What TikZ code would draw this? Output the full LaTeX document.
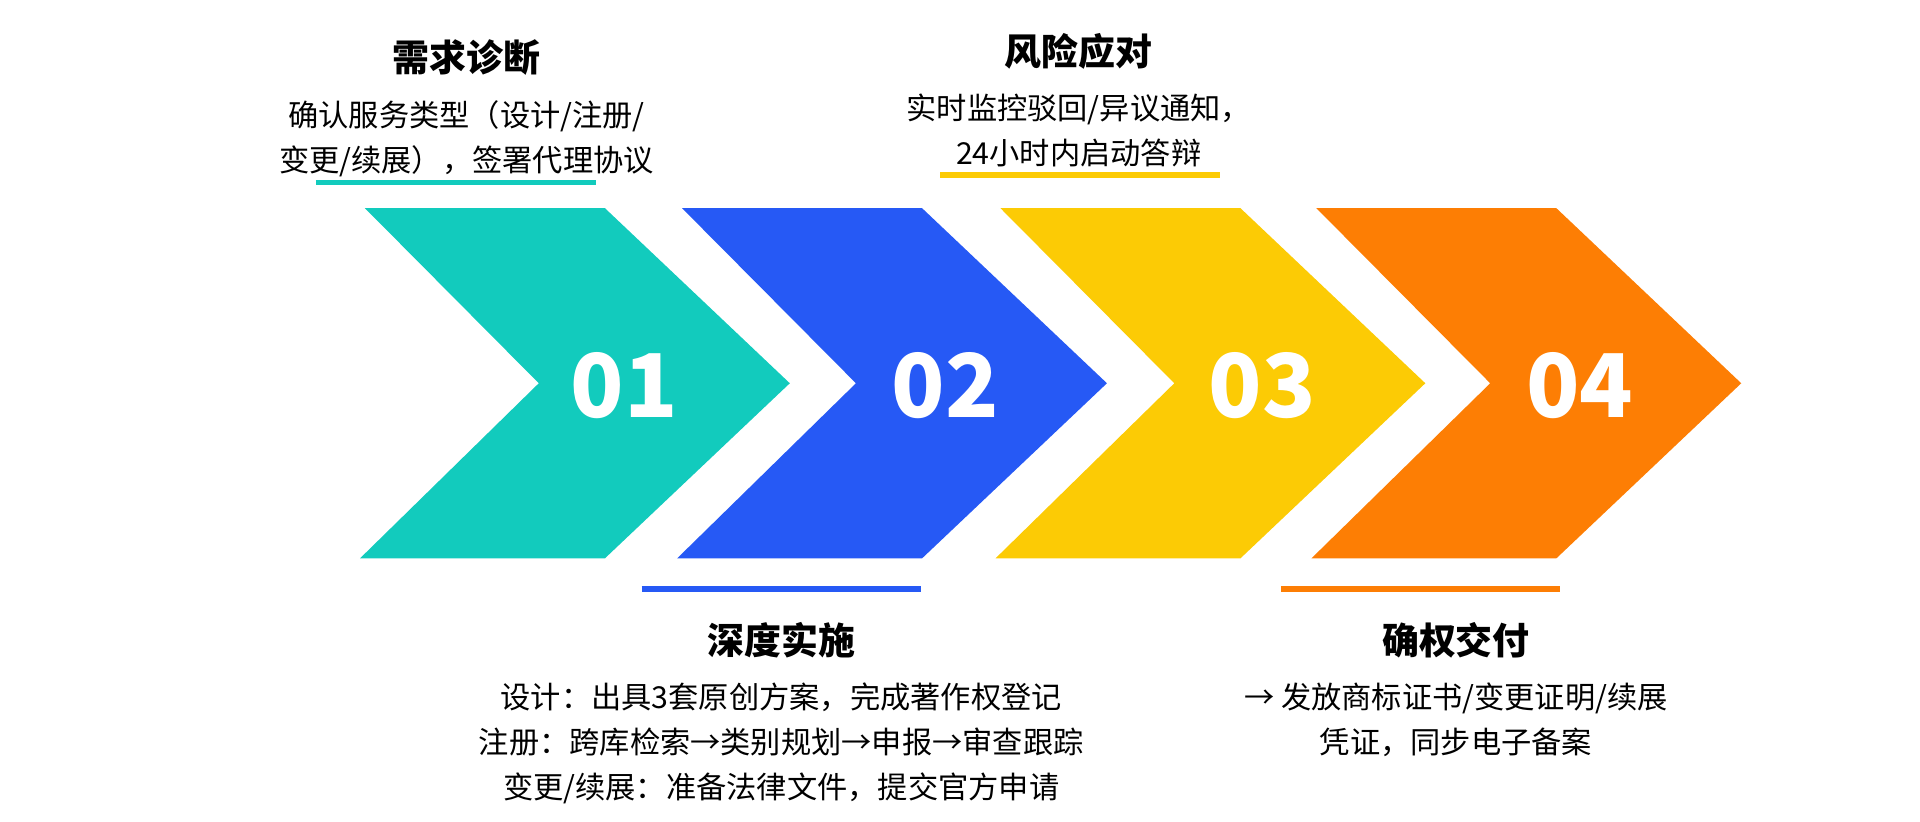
\documentclass[tikz,border=0pt]{standalone}
\usepackage{fontspec}
\setmainfont{Noto Sans CJK SC}
\usetikzlibrary{positioning}
\definecolor{cteal}{HTML}{12CBBD}
\definecolor{cblue}{HTML}{2659F5}
\definecolor{cyellow}{HTML}{FCCB05}
\definecolor{corange}{HTML}{FD7E04}
\tikzset{
    numtext/.style={text=white, font=\fontsize{25}{25}\selectfont\bfseries},
    title/.style={font=\fontsize{10.5}{12}\selectfont\bfseries},
    desc/.style={font=\fontsize{8.6}{12.8}\selectfont, align=center},
    bar/.style={line width=1.6pt}
}
\newcommand{\chevron}[2]{%
    \fill[#2] (#1+298,170) -- (#1+494,170) -- (#1+645,313) -- (#1+494,456)
        -- (#1+294,456) -- (#1+440,313) -- cycle;}
\begin{document}
\begin{tikzpicture}[x=0.012245cm, y=-0.012245cm]
\useasboundingbox (0,0) rectangle (1568,671);
\chevron{0}{cteal}
\chevron{259}{cblue}
\chevron{519}{cyellow}
\chevron{777}{corange}
\node[numtext] (n1) at (510,315) {01};
\node[numtext] (n2) at (772,315) {02};
\node[numtext] (n3) at (1031,315) {03};
\node[numtext] (n4) at (1290,315) {04};

% bars
\draw[bar, cteal] (258,149) -- (487,149);
\draw[bar, cblue] (524,481) -- (752,481);
\draw[bar, cyellow] (768,143) -- (996,143);
\draw[bar, corange] (1046,481) -- (1274,481);

% texts
\node[title] (t1) at (381,47) {需求诊断};
\node[desc, below=0pt of t1] (d1) {确认服务类型（设计/注册/\\变更/续展），签署代理协议};
\node[title] (t3) at (881,42) {风险应对};
\node[desc, below=0pt of t3] (d3) {实时监控驳回/异议通知，\\24小时内启动答辩};
\node[title] (t2) at (638,523) {深度实施};
\node[desc, below=0pt of t2] (d2) {设计：出具3套原创方案，完成著作权登记\\注册：跨库检索→类别规划→申报→审查跟踪\\变更/续展：准备法律文件，提交官方申请};
\node[title] (t4) at (1189,523) {确权交付};
\node[desc, below=0pt of t4] (d4) {→ 发放商标证书/变更证明/续展\\凭证，同步电子备案};
\end{tikzpicture}
\end{document}
